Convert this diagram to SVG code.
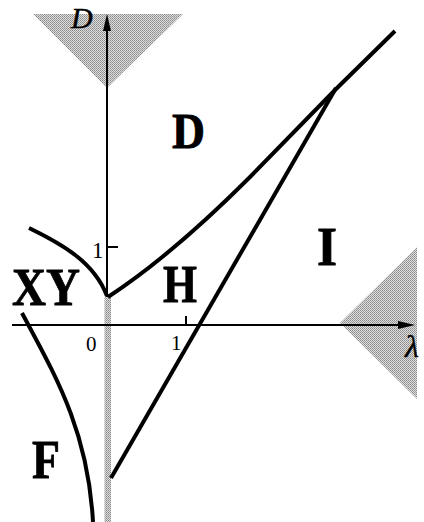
<svg xmlns="http://www.w3.org/2000/svg" width="424" height="522" viewBox="0 0 424 522">
  <defs>
    <pattern id="halftone" width="2" height="2" patternUnits="userSpaceOnUse">
      <rect width="2" height="2" fill="#dcdcdc"/>
      <rect width="1" height="1" fill="#8a8a8a"/>
      <rect x="1" y="1" width="1" height="1" fill="#a0a0a0"/>
    </pattern>
  </defs>
  <style>
    .shade { fill: url(#halftone); stroke: none; }
    .axis { stroke: #000; stroke-width: 2; fill: none; }
    .curve { stroke: #000; stroke-width: 4; fill: none; stroke-linecap: butt; stroke-linejoin: round; }
    .arrow { fill: #000; stroke: none; }
    .region { font-family: "Liberation Serif", "Times New Roman", serif; font-weight: bold; fill: #000; stroke: #000; stroke-width: 0.8; }
    .num { font-family: "Liberation Serif", "Times New Roman", serif; fill: #000; }
    .var { font-family: "Liberation Serif", "Times New Roman", serif; font-style: italic; fill: #000; stroke: #000; stroke-width: 0.4; }
  </style>
  <rect width="424" height="522" fill="#fff"/>

  <g id="shading">
    <polygon class="shade" points="33,14 183,14 107,88"/>
    <polygon class="shade" points="340,323 417,247 417,399"/>
  </g>

  <g id="axes">
    <line class="axis" x1="107" y1="28" x2="107" y2="297"/>
    <polygon class="arrow" points="107,14 103,31 111,31"/>
    <rect class="shade" x="104.5" y="297" width="6.5" height="225"/>
    <line class="axis" x1="12" y1="325" x2="400" y2="325"/>
    <polygon class="arrow" points="415,325 398,321 398,329"/>
    <line class="axis" x1="107" y1="247" x2="118" y2="247" stroke-width="1.5"/>
    <line class="axis" x1="186" y1="325" x2="186" y2="316" stroke-width="1.5"/>
    <text class="var" x="71" y="28" font-size="30">D</text>
    <text class="var" x="405" y="357" font-size="32">λ</text>
    <text class="num" x="92" y="258" font-size="23">1</text>
    <text class="num" x="86" y="351" font-size="21">0</text>
    <text class="num" x="171" y="350" font-size="21">1</text>
  </g>

  <g id="connectors">
    <path class="curve" d="M108,297 C160,263 208,219 250,177 L335,90 L395,31"/>
    <path class="curve" d="M111,478 L336,88"/>
    <path class="curve" d="M29,228 C62,244 94,262 107,296"/>
    <path class="curve" d="M22,313 C55,375 88,430 93,522"/>
  </g>

  <g id="region-D">
    <text class="region" x="172" y="148" font-size="50" textLength="33" lengthAdjust="spacingAndGlyphs">D</text>
  </g>
  <g id="region-I">
    <text class="region" x="317" y="265" font-size="54" textLength="20" lengthAdjust="spacingAndGlyphs">I</text>
  </g>
  <g id="region-XY">
    <text class="region" x="12" y="305" font-size="53" textLength="68" lengthAdjust="spacingAndGlyphs">XY</text>
  </g>
  <g id="region-H">
    <text class="region" x="163" y="302" font-size="53" textLength="34" lengthAdjust="spacingAndGlyphs">H</text>
  </g>
  <g id="region-F">
    <text class="region" x="32" y="478" font-size="54" textLength="28" lengthAdjust="spacingAndGlyphs">F</text>
  </g>
</svg>
